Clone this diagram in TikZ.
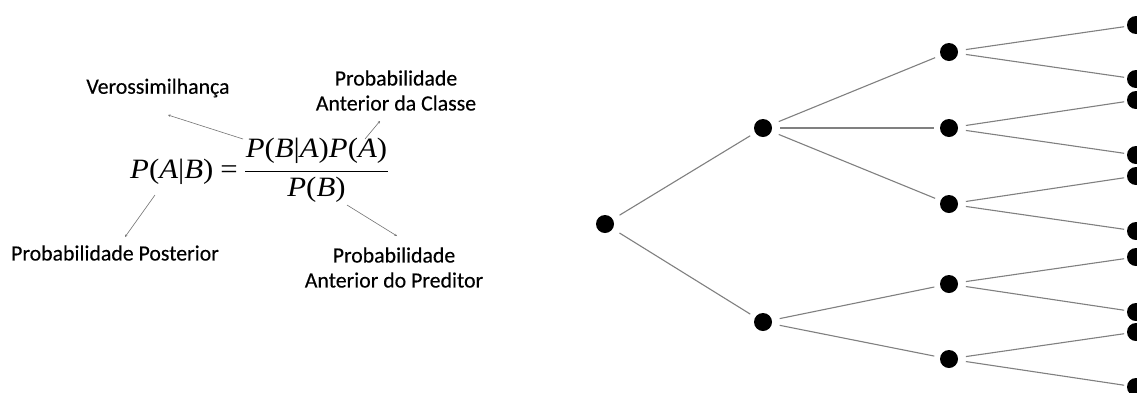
\documentclass[tikz,border=0pt]{standalone}
\usepackage{fontspec}
\setmainfont{Carlito}[FakeBold=0.3]
\newfontfamily\formulafont{Liberation Serif}[FakeStretch=1.1]
\newcommand\fv[1]{\textit{#1}}
\usetikzlibrary{arrows.meta}
\begin{document}
\begin{tikzpicture}[x=1pt,y=-1pt,
  dot/.style={circle,fill=black,inner sep=0pt,outer sep=0pt,minimum size=18pt},
  branch/.style={draw=black!50,line width=1.1pt,shorten <=8pt,shorten >=6pt},
  tobranch/.style={branch,shorten >=3pt},
  lbl/.style={font=\fontsize{21.8}{25}\selectfont,align=center,inner sep=0pt},
  pointer/.style={draw=black!55,line width=0.6pt,-{Stealth[length=2.5pt,width=2.5pt]}},
  eq/.style={font=\formulafont\fontsize{28}{32}\selectfont,inner sep=0pt}
]
\clip (0,0) rectangle (1137,392);
\fill[white] (0,0) rectangle (1137,392);

% Bayes formula with its labelled terms
\node[eq,anchor=east] (lhs) at (238,172) {\fv{P}(\fv{A}|\fv{B})\kern7pt\relax=};
\node[eq] (num) at (316.5,151) {\fv{P}(\fv{B}|\fv{A})\fv{P}(\fv{A})};
\node[eq] (den) at (316.5,190) {\fv{P}(\fv{B})};
\draw[line width=1pt] (245,171) -- (388,171);

\node[lbl] (vero) at (158,88) {Verossimilhança};
\node[lbl] (classe) at (396,90.5) {Probabilidade\\Anterior da Classe};
\node[lbl] (post) at (115,253) {Probabilidade Posterior};
\node[lbl] (pred) at (394,267.5) {Probabilidade\\Anterior do Preditor};

\coordinate (v0) at (243,139);  \coordinate (v1) at (168,115);
\coordinate (c0) at (365,139);  \coordinate (c1) at (380,121);
\coordinate (p0) at (155,195);  \coordinate (p1) at (125,237);
\coordinate (d0) at (347,205);  \coordinate (d1) at (397,236);
\draw[pointer] (v0) -- (v1);
\draw[pointer] (c0) -- (c1);
\draw[pointer] (p0) -- (p1);
\draw[pointer] (d0) -- (d1);

% Tree
\node[dot] (r) at (605,224) {};
\node[dot] (a) at (763,128) {};
\node[dot] (b) at (763,322) {};
\node[dot] (a1) at (949,52) {};
\node[dot] (a2) at (949,128) {};
\node[dot] (a3) at (949,204) {};
\node[dot] (b1) at (949,284) {};
\node[dot] (b2) at (949,359) {};
\foreach \n/\y in {l1/25,l2/79,l3/100,l4/155,l5/176,l6/231,l7/257,l8/312,l9/332,l10/387}
  \node[dot] (\n) at (1136,\y) {};

\draw[branch] (r) -- (a);
\draw[branch] (r) -- (b);
\draw[branch] (a) -- (a1);
\draw[branch] (a) -- (a2);
\draw[branch] (a) -- (a3);
\draw[branch] (b) -- (b1);
\draw[branch] (b) -- (b2);
\draw[tobranch] (a1) -- (l1);
\draw[tobranch] (a1) -- (l2);
\draw[tobranch] (a2) -- (l3);
\draw[tobranch] (a2) -- (l4);
\draw[tobranch] (a3) -- (l5);
\draw[tobranch] (a3) -- (l6);
\draw[tobranch] (b1) -- (l7);
\draw[tobranch] (b1) -- (l8);
\draw[tobranch] (b2) -- (l9);
\draw[tobranch] (b2) -- (l10);
\end{tikzpicture}
\end{document}
